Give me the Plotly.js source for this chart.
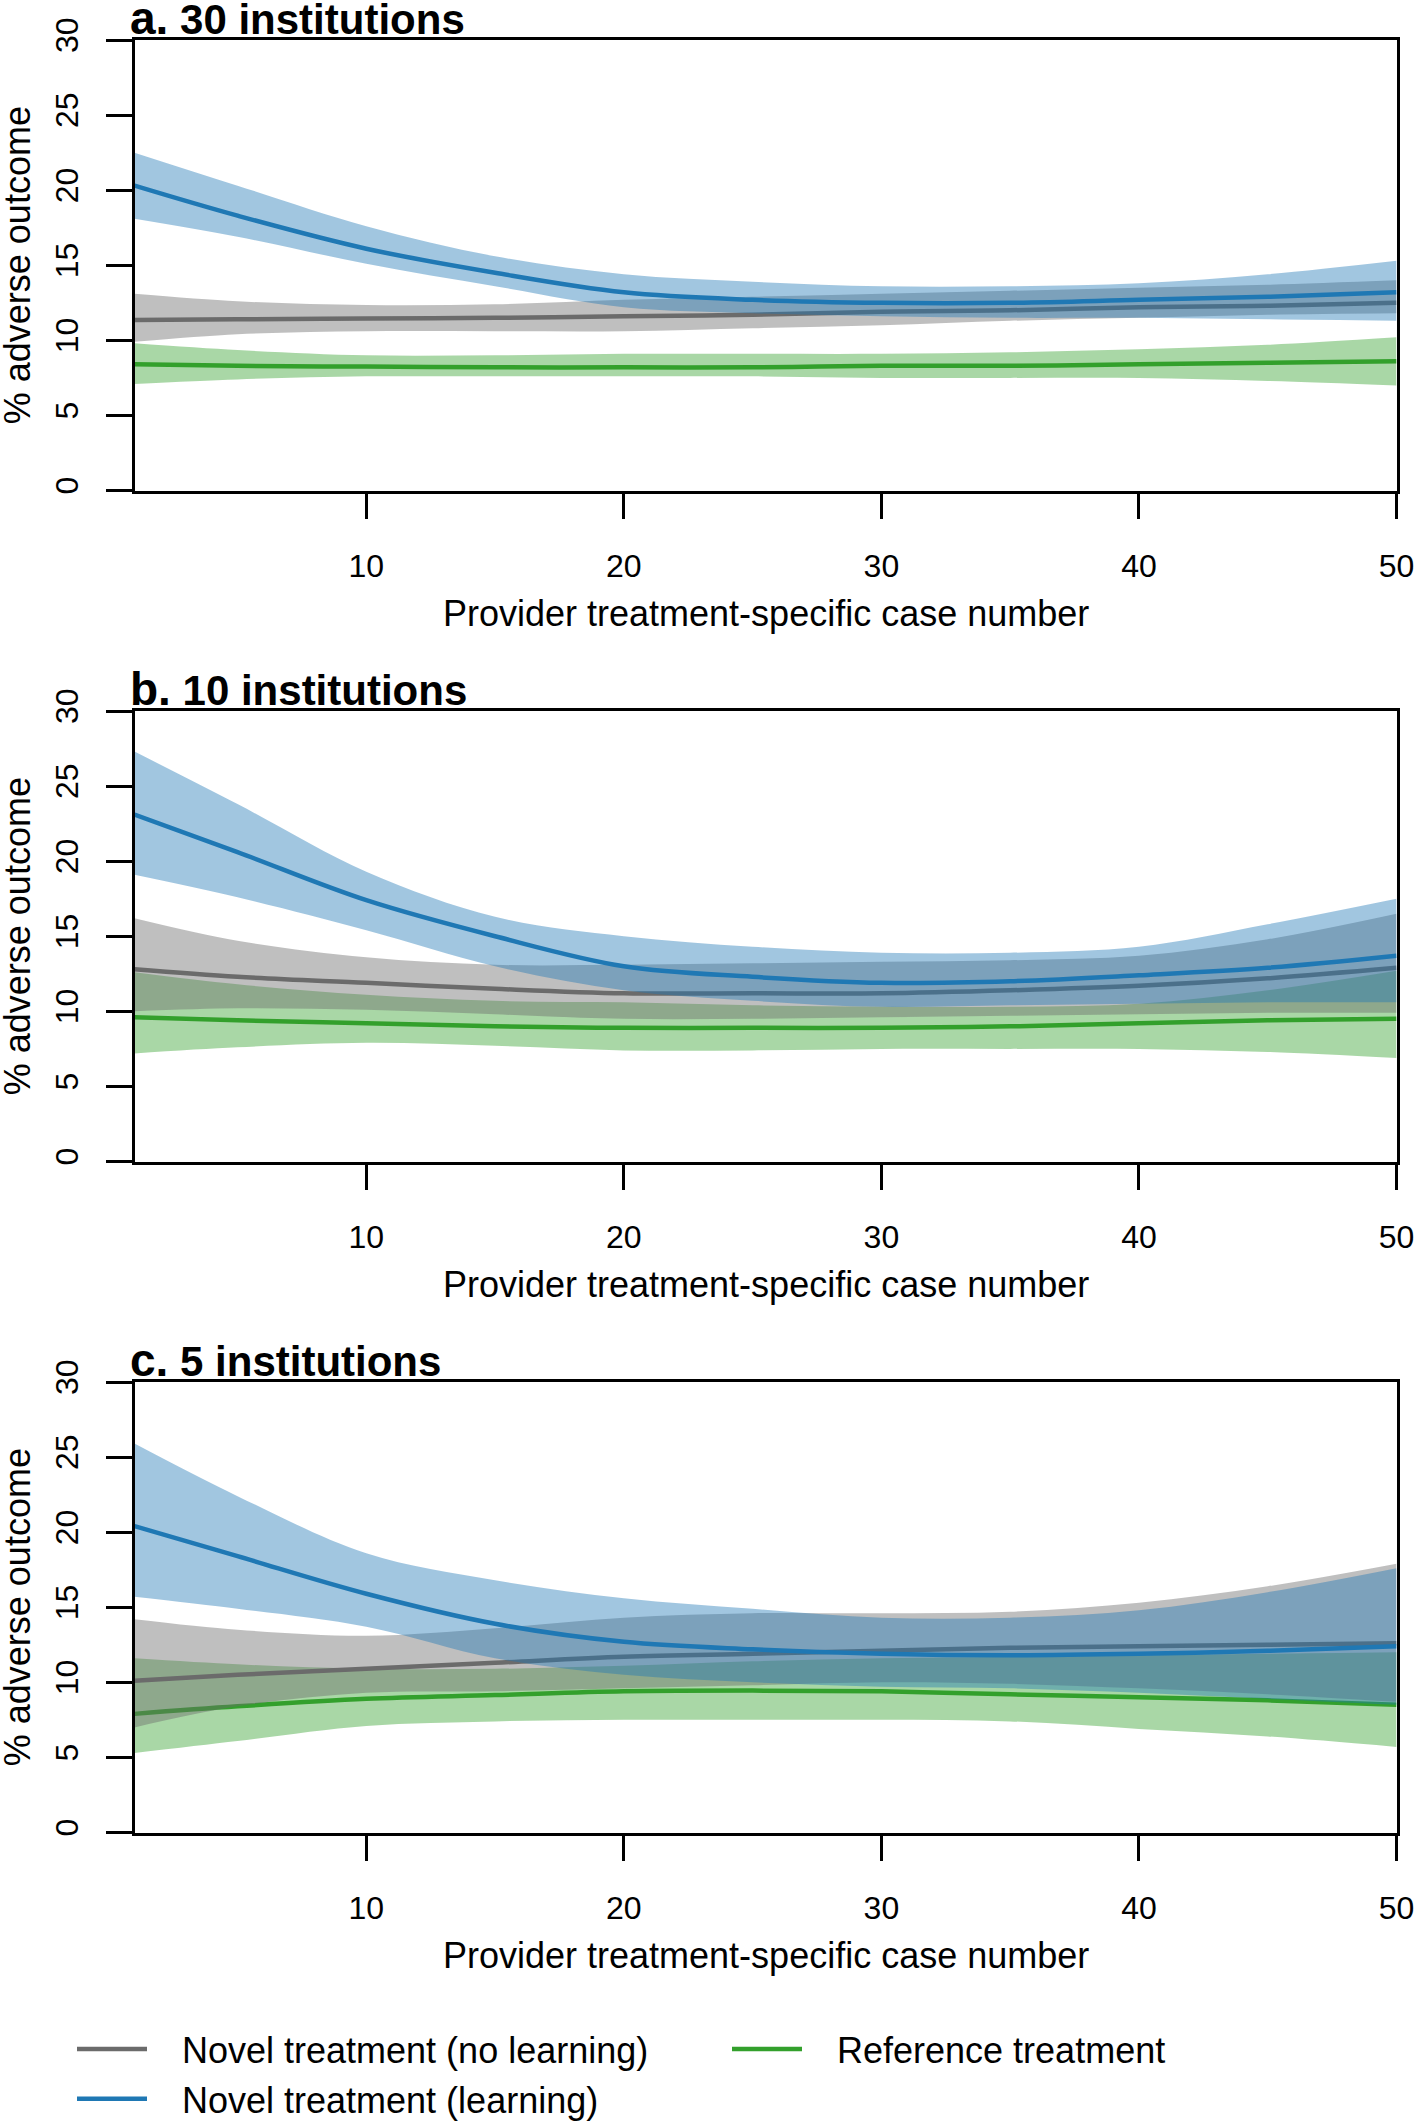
<!DOCTYPE html>
<html>
<head>
<meta charset="utf-8">
<script src="https://cdn.plot.ly/plotly-3.0.1.min.js"></script>
<style>body{margin:0;background:#fff}</style>
</head>
<body>
<div id="chart" style="width:1416px;height:2121px"></div>
<script>
var caseNumber = [1, 5, 10, 15, 20, 25, 30, 35, 40, 45, 50];

// a. 30 institutions
var aLearnFit = [20.3, 18.3, 16.1, 14.5, 13.2, 12.7, 12.5, 12.5, 12.7, 12.9, 13.2];
var aLearnHi = [22.5, 20.3, 17.6, 15.6, 14.4, 13.9, 13.6, 13.6, 13.8, 14.4, 15.3];
var aLearnLo = [18.1, 16.9, 15.1, 13.6, 12.2, 11.8, 11.6, 11.5, 11.5, 11.4, 11.3];
var aNoLearnFit = [11.35, 11.4, 11.45, 11.5, 11.6, 11.7, 11.9, 12.0, 12.2, 12.3, 12.5];
var aNoLearnHi = [13.1, 12.6, 12.35, 12.4, 12.7, 12.9, 13.1, 13.3, 13.5, 13.7, 14.0];
var aNoLearnLo = [9.9, 10.4, 10.6, 10.6, 10.6, 10.8, 11.0, 11.3, 11.5, 11.7, 11.8];
var aRefFit = [8.4, 8.3, 8.25, 8.2, 8.2, 8.2, 8.3, 8.3, 8.4, 8.5, 8.6];
var aRefHi = [9.8, 9.35, 9.0, 9.0, 9.1, 9.1, 9.1, 9.2, 9.4, 9.7, 10.2];
var aRefLo = [7.1, 7.4, 7.6, 7.6, 7.6, 7.6, 7.5, 7.5, 7.5, 7.3, 7.0];

// b. 10 institutions
var bLearnFit = [23.1, 20.6, 17.4, 15.0, 13.0, 12.3, 11.9, 12.0, 12.4, 12.9, 13.7];
var bLearnHi = [27.3, 23.8, 19.3, 16.3, 15.0, 14.3, 13.9, 13.9, 14.3, 15.8, 17.5];
var bLearnLo = [19.1, 17.6, 15.4, 13.0, 11.4, 10.7, 10.3, 10.4, 10.5, 10.6, 10.6];
var bNoLearnFit = [12.8, 12.3, 11.9, 11.5, 11.2, 11.2, 11.2, 11.4, 11.7, 12.2, 12.9];
var bNoLearnHi = [16.2, 14.7, 13.6, 13.1, 13.1, 13.2, 13.3, 13.4, 13.7, 14.8, 16.5];
var bNoLearnLo = [10.0, 10.2, 10.1, 9.8, 9.5, 9.5, 9.6, 9.7, 9.8, 9.9, 9.9];
var bRefFit = [9.6, 9.4, 9.2, 9.0, 8.9, 8.9, 8.9, 9.0, 9.2, 9.4, 9.5];
var bRefHi = [12.6, 11.8, 11.1, 10.7, 10.6, 10.4, 10.3, 10.3, 10.5, 11.4, 12.7];
var bRefLo = [7.2, 7.6, 7.9, 7.7, 7.4, 7.4, 7.5, 7.5, 7.5, 7.3, 6.9];

// c. 5 institutions
var cLearnFit = [20.4, 18.4, 15.9, 13.9, 12.7, 12.2, 11.9, 11.8, 11.9, 12.1, 12.4];
var cLearnHi = [25.9, 22.4, 18.6, 16.8, 15.6, 14.9, 14.3, 14.3, 14.8, 16.0, 17.6];
var cLearnLo = [15.7, 14.9, 13.7, 11.6, 10.5, 10.0, 9.7, 9.6, 9.3, 8.9, 8.5];
var cNoLearnFit = [10.1, 10.5, 10.9, 11.3, 11.7, 11.9, 12.1, 12.3, 12.4, 12.5, 12.6];
var cNoLearnHi = [14.2, 13.5, 13.1, 13.6, 14.3, 14.6, 14.6, 14.7, 15.3, 16.4, 17.9];
var cNoLearnLo = [7.0, 8.4, 9.3, 9.4, 9.6, 9.8, 10.0, 9.9, 9.6, 9.2, 8.7];
var cRefFit = [7.9, 8.4, 8.9, 9.15, 9.4, 9.45, 9.4, 9.2, 9.0, 8.8, 8.5];
var cRefHi = [11.6, 11.2, 10.9, 10.9, 11.1, 11.4, 11.6, 11.7, 11.8, 11.9, 12.0];
var cRefLo = [5.3, 6.1, 7.1, 7.4, 7.5, 7.5, 7.5, 7.4, 6.9, 6.4, 5.7];

var panelTitles = ["a.", "b.", "c."];
var panelNames = ["30 institutions", "10 institutions", "5 institutions"];
var seriesNames = ["Novel treatment (no learning)", "Reference treatment", "Novel treatment (learning)"];
var xTicks = [10, 20, 30, 40, 50];
var yTicks = [0, 5, 10, 15, 20, 25, 30];

var W = 1416, H = 2121;
var font = "Liberation Sans, Arial, Helvetica, sans-serif";
var col = {ref: "#33a02c", noLearn: "#6b6b6b", learn: "#1f78b4"};
var band = {ref: "rgba(51,160,44,0.42)", noLearn: "rgba(107,107,107,0.43)", learn: "rgba(31,120,180,0.42)"};

// pixel helpers for paper coordinates
function px(x) { return x / W; }
function py(y) { return 1 - y / H; }

var panelTops = [40, 711, 1382];
var panelH = 450.5;
var plotLeft = 134.5, plotRight = 1396.5;

var data = [];
function addSeries(xa, ya, lo, fit, hi, key, name, legendOn, rank) {
  data.push({x: caseNumber, y: lo, xaxis: xa, yaxis: ya, mode: "lines",
    line: {width: 0, shape: "spline", color: band[key]}, showlegend: false, hoverinfo: "skip"});
  data.push({x: caseNumber, y: hi, xaxis: xa, yaxis: ya, mode: "lines", fill: "tonexty",
    fillcolor: band[key], line: {width: 0, shape: "spline", color: band[key]},
    showlegend: false, hoverinfo: "skip"});
  // leading spaces keep the gap between the legend line and its label
  data.push({x: caseNumber, y: fit, xaxis: xa, yaxis: ya, mode: "lines", name: "&nbsp;&nbsp;&nbsp;" + name,
    line: {width: 4.5, shape: "spline", color: col[key]}, showlegend: legendOn, legendrank: rank});
}

var panelData = [
  [aRefLo, aRefFit, aRefHi, aNoLearnLo, aNoLearnFit, aNoLearnHi, aLearnLo, aLearnFit, aLearnHi],
  [bRefLo, bRefFit, bRefHi, bNoLearnLo, bNoLearnFit, bNoLearnHi, bLearnLo, bLearnFit, bLearnHi],
  [cRefLo, cRefFit, cRefHi, cNoLearnLo, cNoLearnFit, cNoLearnHi, cLearnLo, cLearnFit, cLearnHi]
];

var layout = {
  width: W, height: H,
  margin: {l: 0, r: 0, t: 0, b: 0, autoexpand: false},
  paper_bgcolor: "#fff", plot_bgcolor: "#fff",
  font: {family: font, color: "#000", size: 32},
  showlegend: true,
  legend: {
    orientation: "h", x: px(72), xanchor: "left", y: py(2019), yanchor: "top",
    font: {size: 36, family: font}, itemwidth: 70, traceorder: "normal",
    entrywidth: 570, entrywidthmode: "pixels", bgcolor: "rgba(0,0,0,0)"
  },
  annotations: []
};

for (var i = 0; i < 3; i++) {
  var sfx = i === 0 ? "" : String(i + 1);
  var xa = "x" + sfx, ya = "y" + sfx;
  var d = panelData[i];
  addSeries(xa, ya, d[0], d[1], d[2], "ref", seriesNames[1], i === 0, 2);
  addSeries(xa, ya, d[3], d[4], d[5], "noLearn", seriesNames[0], i === 0, 1);
  addSeries(xa, ya, d[6], d[7], d[8], "learn", seriesNames[2], i === 0, 3);

  var pTop = panelTops[i], pBottom = pTop + panelH;
  layout["xaxis" + sfx] = {
    domain: [px(plotLeft), px(plotRight)], anchor: ya, range: [1, 50],
    tickvals: xTicks, ticks: "outside", ticklen: 25, tickwidth: 3, tickcolor: "#000",
    showline: true, linewidth: 3, linecolor: "#000", mirror: true,
    showgrid: false, zeroline: false, ticklabelstandoff: 20,
    tickfont: {size: 32, family: font}
  };
  layout["yaxis" + sfx] = {
    domain: [py(pBottom), py(pTop)], anchor: xa, range: [0, 30],
    tickvals: yTicks, ticks: "outside", ticklen: 26, tickwidth: 3, tickcolor: "#000",
    showline: true, linewidth: 3, linecolor: "#000", mirror: true,
    showgrid: false, zeroline: false, tickangle: -90, ticklabelstandoff: 15,
    tickfont: {size: 32, family: font}
  };
  layout.annotations.push({
    xref: "paper", yref: "paper", x: px(128), y: py(pTop + 6), xanchor: "left", yanchor: "bottom",
    text: "<b><span style='font-size:46px'>" + panelTitles[i] + "</span> " + panelNames[i] + "</b>",
    showarrow: false, font: {size: 42, family: font}
  });
  layout.annotations.push({
    xref: "paper", yref: "paper", x: px((plotLeft + plotRight) / 2), y: py(pTop + 573),
    xanchor: "center", yanchor: "middle", text: "Provider treatment-specific case number",
    showarrow: false, font: {size: 36, family: font}
  });
  layout.annotations.push({
    xref: "paper", yref: "paper", x: px(17), y: py(pTop + panelH / 2),
    xanchor: "center", yanchor: "middle", text: "% adverse outcome", textangle: -90,
    showarrow: false, font: {size: 36, family: font}
  });
}

Plotly.newPlot("chart", data, layout, {displayModeBar: false, staticPlot: true});
</script>
</body>
</html>
